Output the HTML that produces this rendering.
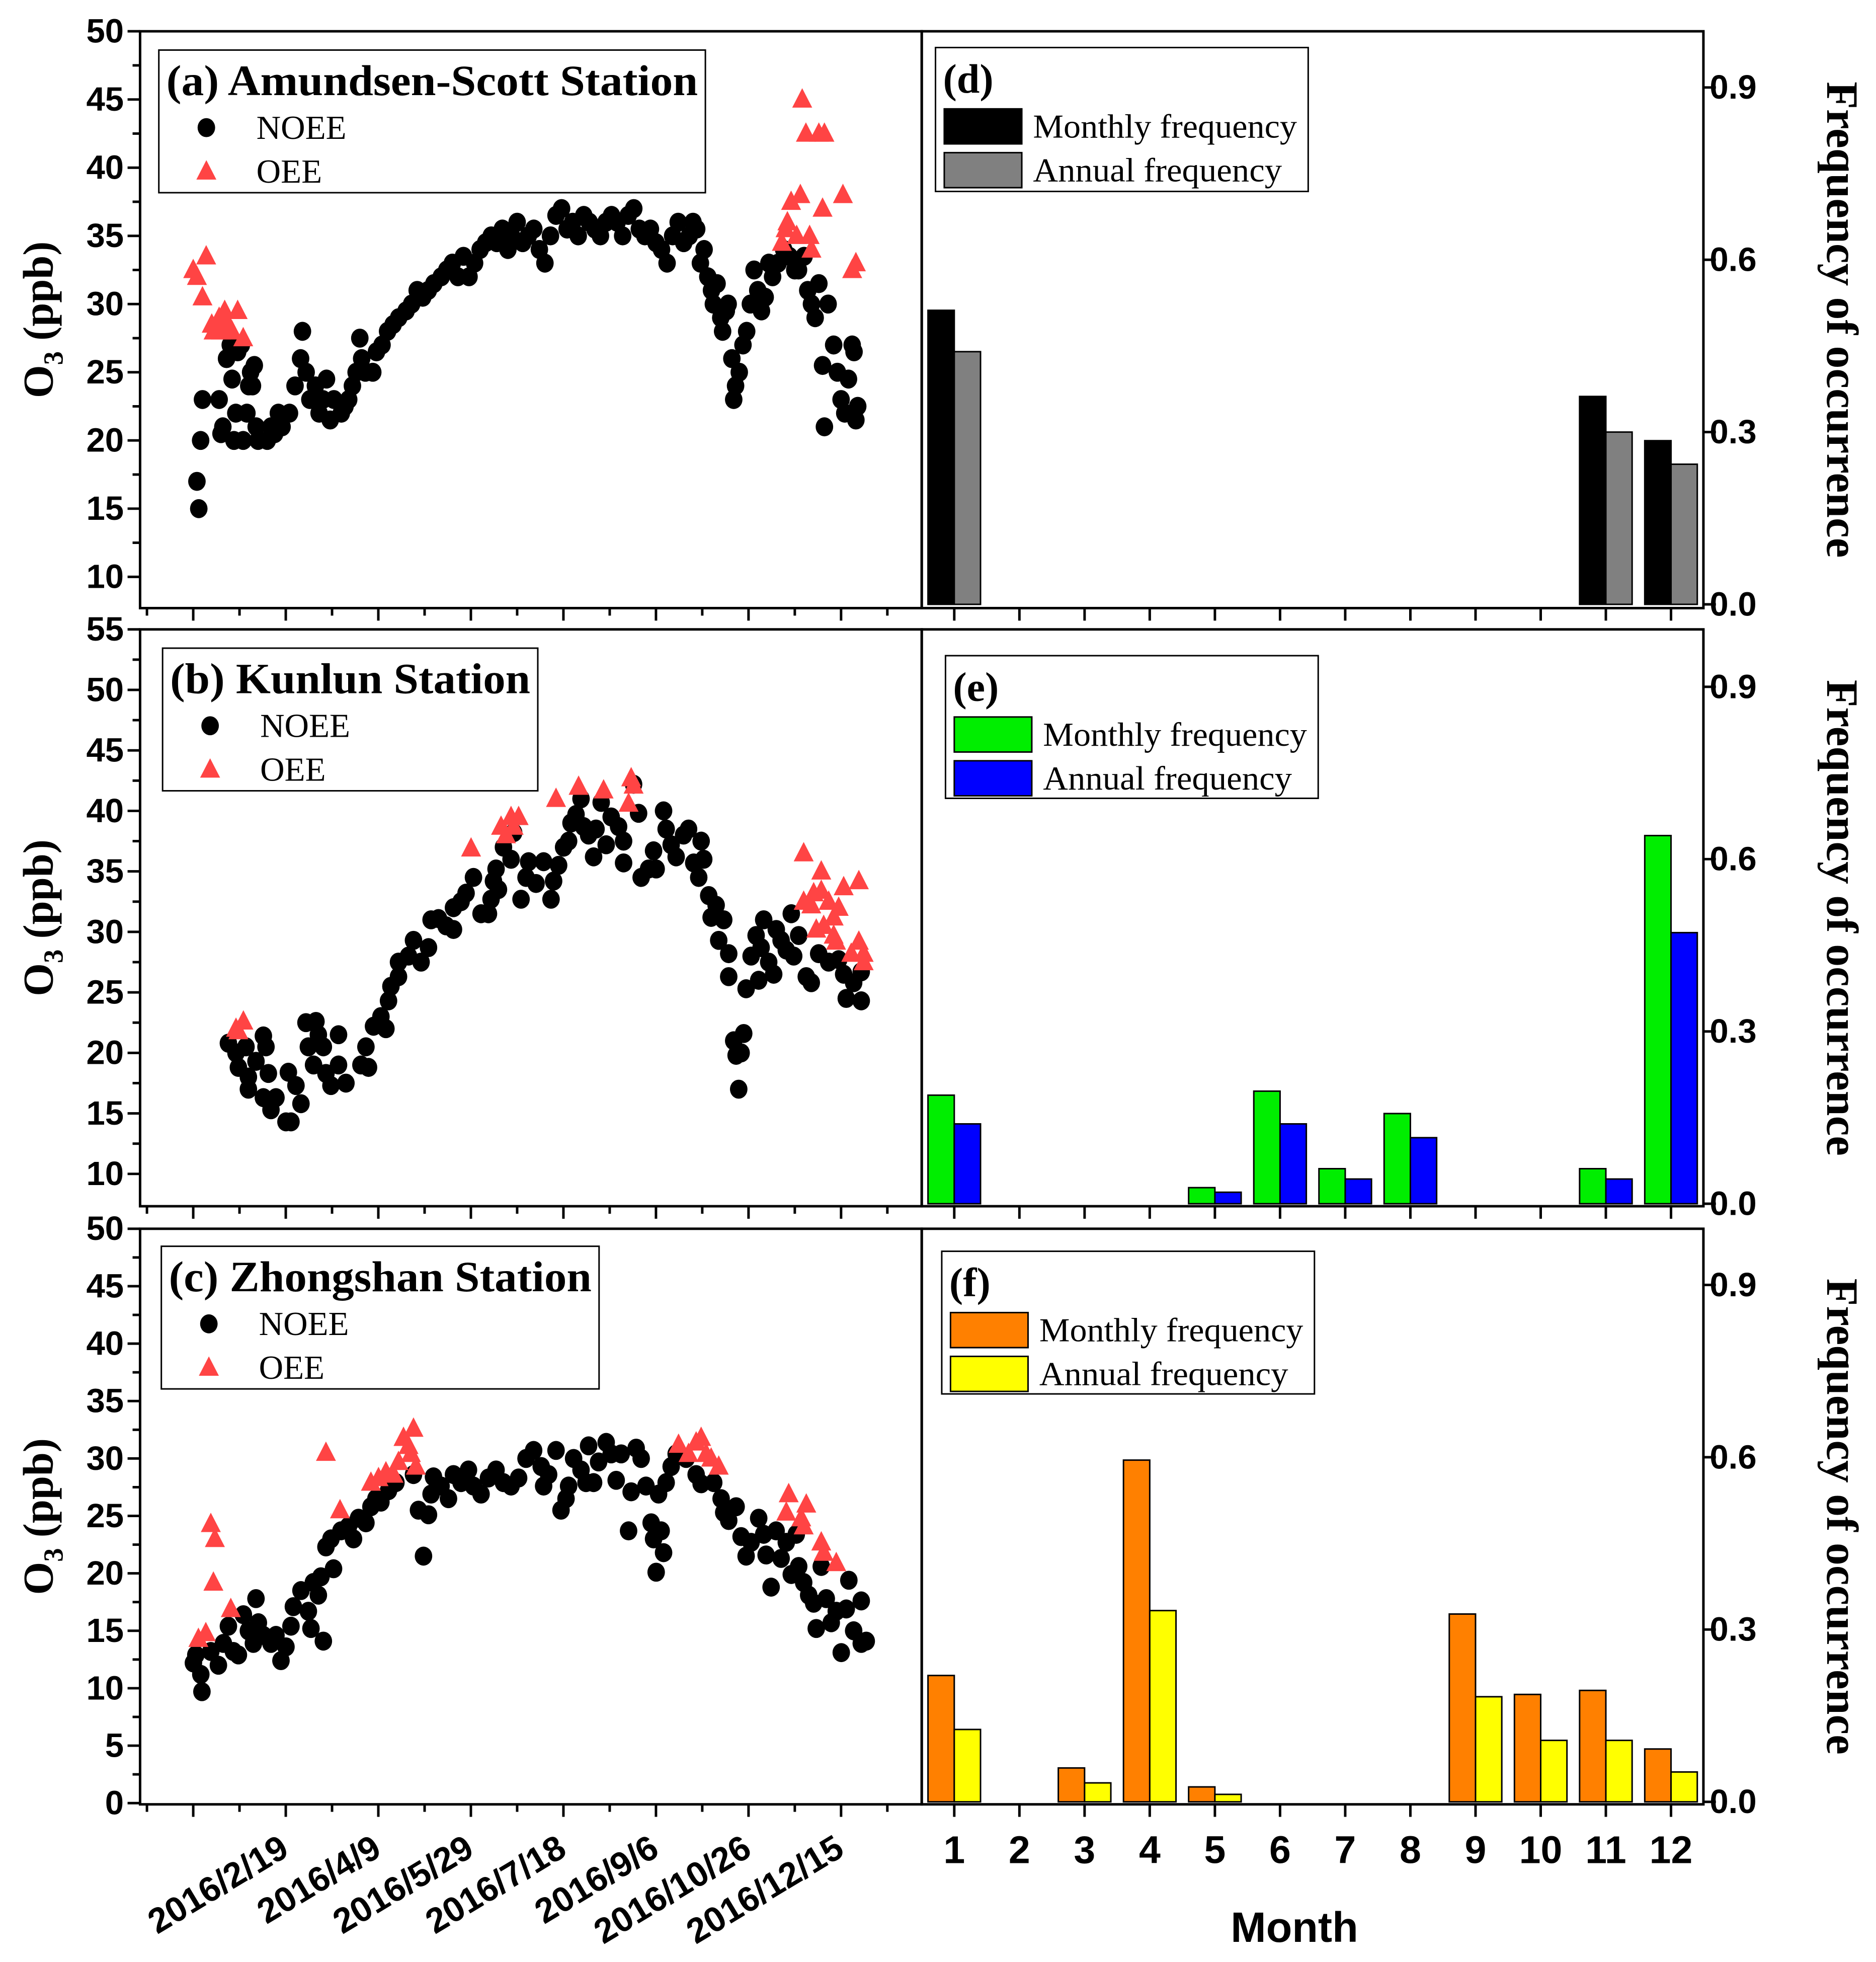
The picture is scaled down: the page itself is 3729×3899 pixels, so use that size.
<!DOCTYPE html>
<html><head><meta charset="utf-8"><style>
html,body{margin:0;padding:0;background:#fff}
svg{display:block}
text{font-family:"Liberation Sans",sans-serif}
.ser{font-family:"Liberation Serif",serif}
</style></head><body>
<svg id="fig" width="3729" height="3899" viewBox="0 0 1500 1568" preserveAspectRatio="none" xmlns="http://www.w3.org/2000/svg"></svg>
<script>
// ---------- data ----------
const noeeDaysA=[2,3,4,5,14,15,16,18,20,21,22,23,24,26,27,29,30,31,32,33,34,35,40,42,44,46,48,52,55,58,59,61,63,66,68,70,72,74,76,80,82,84,86,88,90,91,93,97,99,102,105,108,111,115,118,121,124,127,130,134,137,140,143,146,149,152,155,158,161,164,167,170,172,175,178,181,184,187,190,193,196,199,202,205,208,211,214,217,220,223,226,229,232,235,238,241,244,247,250,253,256,259,262,265,268,270,272,274,276,278,280,281,283,285,286,288,289,291,292,293,295,297,299,301,303,305,307,309,311,313,316,319,322,325,327,330,332,334,336,338,340,341,343,346,348,350,352,354,356,357,358,359];
const noeeValsA=[17,15,20,23,23,20.5,21,26,27,24.5,20,22,26.5,27,20,22,24,25,24,25.5,21,20,20,21,20.5,22,21,22,24,26,28,25,23,24,22,23,24.5,21.5,23,22,22.5,23,24,25,27.5,26,25,25,26.5,27,28,28.5,29,29.5,30,31,30.5,31,31.5,32,32.5,33,32,33.5,32,33,34,34.5,35,34.5,35.5,34,35,36,34.5,35,35.5,34,33,35,36.5,37,35.5,36,35,36.5,36,35.5,35,36,36.5,36,35,36.5,37,35.5,35,35.5,34.5,34,33,35,36,34.5,35,36,35.5,33,34,32,31,30,31.5,29,28,29.5,30,26,23,24,25,27,28,30,32.5,31,29.5,30.5,33,32,33,34,33.5,32.5,32.5,33.5,31,30,29,31.5,25.5,21,30,27,25,23,22,24.5,27,26.5,21.5,22.5];
const oeeDaysA=[0,2,5,7,10,11,14,15,17,19,21,24,27,318,320,321,323,326,328,329,331,333,334,338,340,341,351,356,358];
const oeeValsA=[32.5,32,30.5,33.5,28.5,28,29,28,29.5,28.5,28,29.5,27.5,34.5,35.5,36,37.5,35,38,45,42.5,35,34,42.5,37,42.5,38,32.5,33];

const noeeDaysB=[19,23.1,24.4,28.5,29.8,29.8,33.9,37.9,39.3,40.6,37.9,42,44.7,50.1,52.8,51.4,55.5,58.2,60.9,62.2,65,66.3,67.6,70.3,71.7,74.4,78.5,78.5,82.5,90.6,94.7,93.3,97.4,101.4,104.1,105.5,106.8,110.9,110.9,116.3,119,123.1,127.1,128.5,132.5,136.6,140.6,140.6,144.7,147.4,151.4,155.5,159.5,160.9,162.2,163.6,164.9,167.6,171.7,173.1,177.1,179.8,181.2,185.2,189.3,193.3,194.7,197.4,200.1,202.8,204.1,206.8,209.5,210.9,213.6,216.3,217.6,220.4,223.1,225.8,229.8,232.5,232.5,237.9,240.6,242,246,248.7,250.1,254.1,255.5,258.2,260.9,264.9,267.6,270.4,273.1,274.4,275.8,278.5,279.8,282.5,283.9,286.6,289.3,289.3,292,293.3,294.7,297.4,296,298.7,301.4,304.1,306.8,305.5,308.2,310.9,313.6,315,317.6,320.4,323.1,324.4,327.1,331.2,333.9,337.9,343.3,348.7,351.4,352.8,356.8,360.9,360.9];
const noeeValsB=[20.8,20,18.8,20.5,18,17,19.3,21.4,20.5,18.3,16.3,15.3,16.3,14.3,14.3,18.4,17.3,15.8,22.5,20.5,19,22.6,21.5,20.5,18.3,17.3,21.5,19,17.5,19,18.8,20.5,22.2,23,22,24.3,25.5,26.3,27.5,28,29.3,27.5,28.7,31,31.1,30.5,30.2,32,32.5,33.2,34.5,31.5,31.5,32.7,34.2,35.2,33.5,37,36,38.2,32.7,34.5,35.8,34,35.8,32.7,34.2,35.5,37,37.5,39,39.7,41,38.7,38,36.2,38.5,40.7,37.2,39.5,38.7,35.7,37.5,42.2,39.8,34.5,35.2,36.7,35.2,40,38.5,37.2,36.2,38,38.5,35.7,34.5,37.5,36,33,31.2,32.2,29.3,31,28.2,26.3,21,19.8,17,21.6,20,25.3,28,29.7,28.7,26,31,27.5,26.5,30.2,29.3,28.5,31.5,28,29.7,26.3,25.8,28.2,27.5,27.7,26.5,24.5,25.8,26.7,24.3];
const oeeDaysB=[23.1,27.1,24.4,150.1,166.3,169,171.7,175.8,173.1,196,208.2,221.7,236.6,237.9,235.2,329.8,339.3,351.4,359.6,329.8,335.2,339.3,333.9,343.3,348.7,346,336.6,340.6,346,347.3,355.5,359.6,362.2,362.2];
const oeeValsB=[22,22.6,21.8,36.9,38.7,38,39.5,39.5,38.7,41,42,41.7,42.7,42.1,40.6,36.5,35,33.7,34.2,32.5,33.2,33.4,32.2,32.5,32,31.2,30.2,30.5,29.7,29.2,28.2,29.2,28.2,27.5];

const noeeDaysC=[0.1,1.4,4.1,4.7,9.5,13.6,16.3,19,21.7,24.4,27.1,29.8,32.5,33.9,35.2,37.9,42,44.7,47.4,50.1,52.8,54.1,58.2,62.2,63.6,64.9,67.6,69,70.3,71.7,74.4,75.8,79.8,83.9,86.6,89.3,93.3,96,98.7,101.4,105.5,109.5,119,121.7,124.4,127.1,128.5,129.8,133.9,137.9,140.6,144.7,148.7,151.4,155.5,159.5,163.6,167.6,171.7,175.8,179.8,183.9,188,189.3,192,196,198.7,201.4,202.8,205.5,209.5,212.2,213.6,216.3,219,223.1,225.8,228.5,231.2,235.2,236.6,239.3,242,244.6,247.4,248.7,250.1,252.8,254.1,251.4,255.5,258.2,260.9,266.3,271.7,274.4,281.2,285.2,286.6,289.3,293.3,296,298.7,301.4,305.5,308.2,309.5,312.2,314.9,317.6,320.4,323.1,325.8,327.1,329.8,332.5,335.2,336.6,339.3,342,344.7,347.4,350.1,352.8,354.2,356.8,360.9,363.6,360.9];
const noeeValsC=[12.2,12.9,11.2,9.7,13.2,12,13.9,15.4,13.2,12.9,16.4,15,13.9,17.8,15.7,14.6,13.9,14.6,12.4,13.6,15.4,17.1,18.5,16.7,15.2,19.2,18.1,19.7,14.1,22.3,23,20.4,23.7,24.1,23,24.8,24.4,25.8,26.5,26.2,27.2,27.9,28.6,25.5,21.5,25.1,26.9,28.4,27.6,26.5,28.6,27.9,29,27.6,26.9,28.3,29,27.9,27.6,28.3,30,30.7,29.3,27.6,28.6,30.7,25.5,26.5,27.6,30,29,27.9,31.1,27.9,29.7,31.4,30.4,28.1,30.4,23.7,27.1,30.9,30,27.6,24.4,23,20.1,23.7,21.8,26.9,27.9,29.3,30.4,30,28.6,27.8,27.9,26.5,25.3,24.6,25.8,23.2,21.5,22.7,24.8,23.4,21.6,18.8,23.7,21.3,22.7,19.9,23.4,20.6,19.2,18.1,17.4,15.2,20.6,17.8,15.7,16.7,13.1,16.9,19.4,15,17.6,14.1,13.9];
const oeeDaysC=[2.8,6.8,9.5,11.7,10.9,20.3,71.7,79.3,96,100.1,104.1,108.2,110.9,113.6,116.3,119,117.6,120.3,262.2,267.6,271.7,274.4,277.1,279.8,283.9,321.7,320.4,328.5,331.2,329.8,339.3,340.6,347.4];
const oeeValsC=[14.3,14.8,24.3,23,19.2,16.9,30.5,25.5,27.9,28.3,28.8,28.6,29.7,31.8,31.1,32.6,30.4,29.3,31.2,30.4,31.4,31.8,30.4,30,29.3,26.9,25.3,24.8,26,24.1,22.7,21.8,20.9];

const months=[1,2,3,4,5,6,7,8,9,10,11,12];
const monthlyD=[0.512,0,0,0,0,0,0,0,0,0,0.362,0.285];
const annualD=[0.440,0,0,0,0,0,0,0,0,0,0.300,0.244];
const monthlyE=[0.189,0,0,0,0.028,0.196,0.061,0.157,0,0,0.061,0.641];
const annualE=[0.139,0,0,0,0.020,0.139,0.043,0.115,0,0,0.043,0.472];
const monthlyF=[0.220,0,0.059,0.595,0.026,0,0,0,0.327,0.187,0.194,0.092];
const annualF=[0.126,0,0.033,0.333,0.013,0,0,0,0.183,0.107,0.107,0.052];
const dateTickLabels=["2016/2/19","2016/4/9","2016/5/29","2016/7/18","2016/9/6","2016/10/26","2016/12/15"];
const dateTickDays=[50,100,150,200,250,300,350];
const freqTicks=[0,0.3,0.6,0.9];

// ---------- drawing ----------
const NS="http://www.w3.org/2000/svg";
const svg=document.getElementById('fig');
function mk(tag,attrs,parent){const e=document.createElementNS(NS,tag);for(const k in attrs)e.setAttribute(k,attrs[k]);(parent||svg).appendChild(e);return e;}
const LX0=112,LX1=737,RX1=1362;
const dayX=d=>154.5+d*1.48;
const monthX=m=>763+(m-1)*52.1;
const R=7;

const panels=[
 {id:'a',top:25,bot:486,vmax:50,ppu:10.9,ymin:10,ymax:50,step:5,nd:noeeDaysA,nv:noeeValsA,od:oeeDaysA,ov:oeeValsA,
  title:'(a) Amundsen-Scott Station',lg:[127,40,437,114],fz:483,
  bl:'(d)',mon:monthlyD,ann:annualD,c1:'#000000',c2:'#808080',blg:[748,38,298,115]},
 {id:'b',top:503,bot:964,vmax:55,ppu:9.67,ymin:10,ymax:55,step:5,nd:noeeDaysB,nv:noeeValsB,od:oeeDaysB,ov:oeeValsB,
  title:'(b) Kunlun Station',lg:[130,518,300,114],fz:962,
  bl:'(e)',mon:monthlyE,ann:annualE,c1:'#00ee00',c2:'#0000ff',blg:[756,524,298,114]},
 {id:'c',top:982,bot:1442,vmax:50,ppu:9.18,ymin:0,ymax:50,step:5,nd:noeeDaysC,nv:noeeValsC,od:oeeDaysC,ov:oeeValsC,
  title:'(c) Zhongshan Station',lg:[129,996,350,114],fz:1440,
  bl:'(f)',mon:monthlyF,ann:annualF,c1:'#ff8000',c2:'#ffff00',blg:[753,1000,298,114]}
];

panels.forEach((p,pi)=>{
  const g=mk('g',{});
  
  
  const yV=v=>p.top+(p.vmax-v)*p.ppu;
  const yF=f=>p.fz-f*459;
  const fl=mk('rect',{x:LX0,y:p.top,width:LX1-LX0,height:p.bot-p.top,fill:'none',stroke:'#000','stroke-width':2},g);
  
  
  const fr=mk('rect',{x:LX1,y:p.top,width:RX1-LX1,height:p.bot-p.top,fill:'none',stroke:'#000','stroke-width':2},g);
  
  
  for(let v=p.ymin;v<=p.ymax+0.01;v+=p.step/2){
    const y=yV(v);if(y>p.bot)continue;
    const major=Math.abs(v/p.step-Math.round(v/p.step))<0.01;
    mk('line',{x1:LX0,x2:LX0-(major?10:6),y1:y,y2:y,stroke:'#000','stroke-width':2},g);
    if(major){const t=mk('text',{x:LX0-13,y:y+9,'text-anchor':'end','font-size':27,'font-weight':'bold'},g);t.textContent=v;
      }
  }
  for(let d=-25;d<=375;d+=25){
    const x=dayX(d);if(x<LX0||x>LX1)continue;
    const major=d%50===0;
    mk('line',{x1:x,x2:x,y1:p.bot,y2:p.bot+(major?10:6),stroke:'#000','stroke-width':2},g);
  }
  freqTicks.forEach(f=>{
    const y=yF(f);
    mk('line',{x1:RX1,x2:RX1+10,y1:y,y2:y,stroke:'#000','stroke-width':2},g);
    const t=mk('text',{x:RX1+5,y:y+9,'font-size':27,'font-weight':'bold'},g);t.textContent=f.toFixed(1);
    
  });
  months.forEach(m=>{mk('line',{x1:monthX(m),x2:monthX(m),y1:p.bot,y2:p.bot+10,stroke:'#000','stroke-width':2},g);});
  const cy=(p.top+p.bot)/2;
  const yt=mk('text',{class:'ser',x:0,y:0,'font-size':34,'font-weight':'bold','text-anchor':'middle',transform:`translate(42,${cy}) rotate(-90)`},g);
  yt.innerHTML='O<tspan font-size="22" dy="8">3</tspan><tspan dy="-8"> (ppb)</tspan>';
  
  const ft=mk('text',{class:'ser',x:0,y:0,'font-size':36,'font-weight':'bold','text-anchor':'middle',transform:`translate(1461,${cy}) rotate(90)`},g);
  ft.textContent='Frequency of occurrence';
  
  p.nd.forEach((d,i)=>{
    const c=mk('ellipse',{cx:dayX(d),cy:yV(p.nv[i]),rx:R,ry:R+0.6,fill:'#000'},g);
    
  });
  p.od.forEach((d,i)=>{
    const x=dayX(d),y=yV(p.ov[i]);
    const t=mk('polygon',{points:`${x},${y-9} ${x-8},${y+6.5} ${x+8},${y+6.5}`,fill:'#ff4444'},g);
    
  });
  months.forEach((m,i)=>{
    const x=monthX(m);
    if(p.mon[i]>0){const b=mk('rect',{x:x-21,y:yF(p.mon[i]),width:21,height:p.mon[i]*459,fill:p.c1,stroke:'#000','stroke-width':1.2},g);
      }
    if(p.ann[i]>0){const b=mk('rect',{x:x,y:yF(p.ann[i]),width:21,height:p.ann[i]*459,fill:p.c2,stroke:'#000','stroke-width':1.2},g);
      }
  });
  const [lx,ly,lw,lh]=p.lg;
  const lg=mk('g',{},g);
  
  mk('rect',{x:lx,y:ly,width:lw,height:lh,fill:'#fff',stroke:'#000','stroke-width':1.2},lg);
  const tt=mk('text',{class:'ser',x:lx+6,y:ly+36,'font-size':34.5,'font-weight':'bold','textLength':lw-12,'lengthAdjust':'spacingAndGlyphs'},lg);tt.textContent=p.title;
  mk('ellipse',{cx:lx+38,cy:ly+62,rx:R,ry:R+0.6,fill:'#000'},lg);
  const n1=mk('text',{class:'ser',x:lx+78,y:ly+71,'font-size':27},lg);n1.textContent='NOEE';
  mk('polygon',{points:`${lx+38},${ly+88} ${lx+30},${ly+103.5} ${lx+46},${ly+103.5}`,fill:'#ff4444'},lg);
  const n2=mk('text',{class:'ser',x:lx+78,y:ly+106,'font-size':27},lg);n2.textContent='OEE';
  const [bx,by,bw,bh]=p.blg;
  const bg=mk('g',{},g);
  
  mk('rect',{x:bx,y:by,width:bw,height:bh,fill:'#fff',stroke:'#000','stroke-width':1.2},bg);
  const bt=mk('text',{class:'ser',x:bx+6,y:by+36,'font-size':33,'font-weight':'bold'},bg);bt.textContent=p.bl;
  mk('rect',{x:bx+7,y:by+49,width:62,height:28,fill:p.c1,stroke:'#000','stroke-width':1.2},bg);
  const b1=mk('text',{class:'ser',x:bx+78,y:by+72,'font-size':27,'textLength':211,'lengthAdjust':'spacingAndGlyphs'},bg);b1.textContent='Monthly frequency';
  mk('rect',{x:bx+7,y:by+84,width:62,height:28,fill:p.c2,stroke:'#000','stroke-width':1.2},bg);
  const b2=mk('text',{class:'ser',x:bx+78,y:by+107,'font-size':27,'textLength':199,'lengthAdjust':'spacingAndGlyphs'},bg);b2.textContent='Annual frequency';
});

dateTickDays.forEach((d,i)=>{
  const x=dayX(d);
  const t=mk('text',{x:0,y:0,'font-size':28,'font-weight':'bold','text-anchor':'end',transform:`translate(${x+4},${1482}) rotate(-31)`});
  t.textContent=dateTickLabels[i];
  
  
});
months.forEach(m=>{
  const t=mk('text',{x:monthX(m),y:1489,'font-size':31,'font-weight':'bold','text-anchor':'middle'});
  t.textContent=m;
  
  
});
const mt=mk('text',{x:1035,y:1552,'font-size':34,'font-weight':'bold','text-anchor':'middle'});
mt.textContent='Month';


</script>
</body></html>
